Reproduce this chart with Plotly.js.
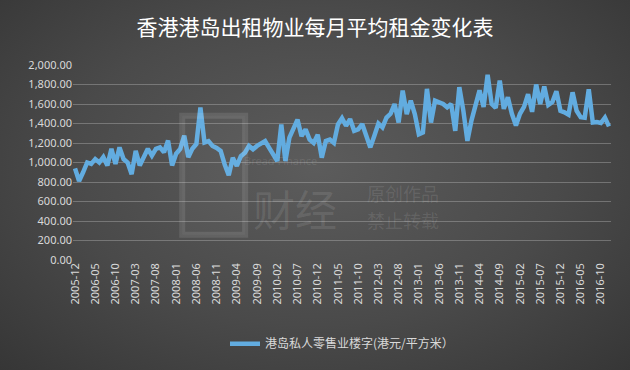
<!DOCTYPE html>
<html>
<head>
<meta charset="utf-8">
<script src="https://cdn.plot.ly/plotly-3.0.1.min.js"></script>
<style>
html,body{margin:0;padding:0;}
body{width:630px;height:370px;background:radial-gradient(ellipse at 50% 45%, #5c5c5c 0%, #4a4a4a 55%, #363636 100%);}
#chart{width:630px;height:370px;}
</style>
</head>
<body>
<div id="chart"></div>
<script>
// Monthly categories 2005-12 .. 2016-12
const months = [];
(function(){
  let y = 2005, m = 12;
  for (let k = 0; k < 133; k++) {
    months.push(y + '-' + (m < 10 ? '0' + m : '' + m));
    m++; if (m > 12) { m = 1; y++; }
  }
})();

const seriesName = '港岛私人零售业楼字(港元/平方米）';
const rents = [
  940, 810, 900, 1000, 985, 1035, 1000, 1055, 970, 1140,
  985, 1155, 1035, 1000, 880, 1120, 970, 1055, 1140, 1070,
  1140, 1155, 1105, 1225, 970, 1090, 1140, 1275, 1055, 1140,
  1190, 1565, 1205, 1220, 1170, 1150, 1120, 980, 870, 1050,
  965, 1065, 1100, 1170, 1135, 1170, 1200, 1220, 1150, 1085,
  1015, 1390, 1015, 1255, 1340, 1440, 1270, 1340, 1235, 1200,
  1285, 1050, 1220, 1235, 1200, 1390, 1455, 1377, 1445, 1325,
  1340, 1395, 1275, 1155, 1275, 1400, 1360, 1460, 1500, 1600,
  1410, 1737, 1497, 1634, 1497, 1290, 1308, 1755, 1410, 1634,
  1617, 1600, 1566, 1600, 1325, 1772, 1531, 1222, 1430, 1580,
  1740, 1570, 1900, 1600, 1560, 1840, 1550, 1670, 1500, 1380,
  1500, 1570, 1700, 1520, 1800, 1600, 1780, 1590, 1620, 1730,
  1530, 1515, 1490, 1720, 1530, 1465, 1460, 1750, 1410, 1415,
  1405, 1460, 1370
];
const tickLabels = months.filter((_, i) => i % 5 === 0);
const yTicks = [0, 200, 400, 600, 800, 1000, 1200, 1400, 1600, 1800, 2000];

const cjk = '"Noto Sans CJK SC", "Noto Sans", sans-serif';

const traces = [{
  type: 'scatter', mode: 'lines',
  x: months, y: rents, name: seriesName,
  line: {color: '#62ace0', width: 4.5}
}];

const wm = 'rgba(255,255,255,0.10)';
const layout = {
  width: 630, height: 370,
  paper_bgcolor: 'rgba(0,0,0,0)', plot_bgcolor: 'rgba(0,0,0,0)',
  margin: {l: 73, r: 19, t: 65, b: 110},
  title: {
    text: '香港港岛出租物业每月平均租金变化表',
    font: {family: cjk, size: 21, color: '#ffffff'},
    x: 0.5, xanchor: 'center', y: 0.925, yanchor: 'middle'
  },
  xaxis: {
    type: 'category',
    range: [-0.5, months.length - 0.5],
    tickmode: 'array', tickvals: tickLabels, ticktext: tickLabels,
    tickangle: -90,
    tickfont: {family: 'Noto Sans, sans-serif', size: 11, color: '#d9d9d9'},
    showgrid: false, zeroline: false, showline: false, ticks: ''
  },
  yaxis: {
    range: [0, 2000],
    tickmode: 'array', tickvals: yTicks,
    tickformat: ',.2f',
    tickfont: {family: 'Noto Sans, sans-serif', size: 11, color: '#d9d9d9'},
    gridcolor: 'rgba(200,200,200,0.35)', gridwidth: 1,
    zeroline: false, showline: false, ticks: '', ticklen: 4
  },
  showlegend: true,
  legend: {
    orientation: 'h', x: 0.5, xanchor: 'center', y: -0.355, yanchor: 'top',
    font: {family: cjk, size: 12, color: '#d9d9d9'},
    bgcolor: 'rgba(0,0,0,0)'
  },
  annotations: [
    {xref: 'paper', yref: 'paper', x: 0.385, y: 0.51, xanchor: 'center', yanchor: 'middle',
     text: 'Bread Finance', showarrow: false,
     font: {family: 'Noto Sans, sans-serif', size: 11, color: wm}},
    {xref: 'paper', yref: 'paper', x: 0.413, y: 0.27, xanchor: 'center', yanchor: 'middle',
     text: '财经', showarrow: false,
     font: {family: cjk, size: 42, color: wm}},
    {xref: 'paper', yref: 'paper', x: 0.613, y: 0.345, xanchor: 'center', yanchor: 'middle',
     text: '原创作品', showarrow: false,
     font: {family: cjk, size: 18, color: wm}},
    {xref: 'paper', yref: 'paper', x: 0.613, y: 0.205, xanchor: 'center', yanchor: 'middle',
     text: '禁止转载', showarrow: false,
     font: {family: cjk, size: 18, color: wm}}
  ],
  shapes: [
    {type: 'rect', xref: 'paper', yref: 'paper', x0: 0.203, x1: 0.32, y0: 0.13, y1: 0.74,
     line: {color: wm, width: 6}, fillcolor: 'rgba(255,255,255,0.03)'}
  ]
};

Plotly.newPlot('chart', traces, layout, {displayModeBar: false, staticPlot: true});
</script>
</body>
</html>
